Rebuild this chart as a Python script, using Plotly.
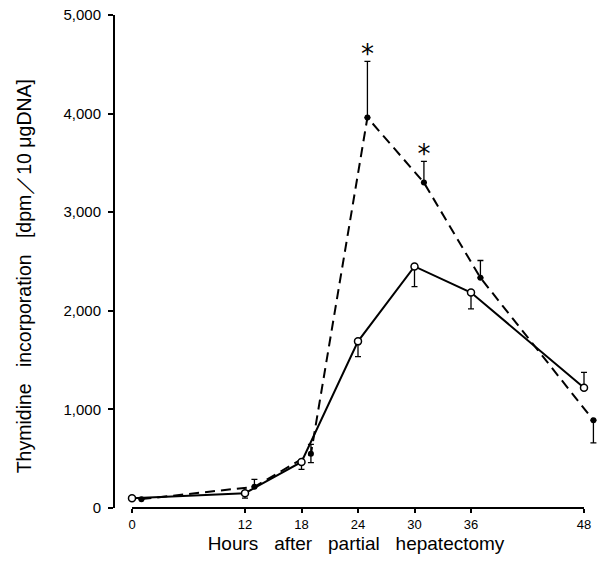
import plotly.graph_objects as go

# Control (open circles, solid line)
hours_ctrl = [0, 12, 18, 24, 30, 36, 48]
ctrl = [100, 150, 467, 1690, 2450, 2185, 1220]
ctrl_err_plus = [0, 0, 0, 0, 0, 0, 155]
ctrl_err_minus = [0, 50, 75, 155, 205, 165, 0]

# Treated (filled circles, dashed line)
hours_trt = [1, 13, 19, 25, 31, 37, 49]
trt = [90, 215, 550, 3960, 3300, 2335, 890]
trt_err_plus = [0, 75, 95, 570, 215, 175, 0]
trt_err_minus = [0, 0, 90, 0, 0, 0, 230]

# significance markers
star_x = [25, 31]
star_y = [4580, 3570]

x_ticks = [0, 12, 18, 24, 30, 36, 48]
y_ticks = [0, 1000, 2000, 3000, 4000, 5000]

FONT = "Liberation Sans, Arial, sans-serif"

fig = go.Figure()

fig.add_trace(go.Scatter(
    x=hours_trt, y=trt, mode="lines+markers",
    line=dict(color="black", width=2, dash="10px,6px"),
    marker=dict(symbol="circle", size=6, color="black"),
    error_y=dict(type="data", symmetric=False, array=trt_err_plus,
                 arrayminus=trt_err_minus, color="black", thickness=1.3, width=3),
    cliponaxis=False, showlegend=False,
))

fig.add_trace(go.Scatter(
    x=hours_ctrl, y=ctrl, mode="lines+markers",
    line=dict(color="black", width=2),
    marker=dict(symbol="circle", size=7, color="white",
                line=dict(color="black", width=1.5)),
    error_y=dict(type="data", symmetric=False, array=ctrl_err_plus,
                 arrayminus=ctrl_err_minus, color="black", thickness=1.3, width=3),
    cliponaxis=False, showlegend=False,
))

fig.add_trace(go.Scatter(
    x=star_x, y=star_y, mode="text", text=["*", "*"],
    textfont=dict(family="DejaVu Sans", size=26, color="#000000"),
    cliponaxis=False, showlegend=False, hoverinfo="skip",
))

# x axis line from 0 to 48 h
fig.add_shape(type="line", xref="x", yref="paper", x0=x_ticks[0], x1=x_ticks[-1],
              y0=0, y1=0, line=dict(color="black", width=2))

# y axis title placed as a rotated annotation
fig.add_annotation(
    text="Thymidine   incorporation   [dpm／10 μgDNA]",
    xref="paper", yref="paper", x=0, y=0.47, xshift=-91,
    xanchor="center", yanchor="middle", textangle=-90, showarrow=False,
    font=dict(size=19.5, family=FONT, color="black"),
)

fig.update_layout(
    width=597, height=573,
    margin=dict(l=115, r=0, t=15, b=65),
    paper_bgcolor="white", plot_bgcolor="white",
    font=dict(family=FONT, color="black", size=14),
    xaxis=dict(
        range=[-1.805, 49.38], showgrid=False, zeroline=False, showline=False,
        tickvals=x_ticks, ticktext=[str(v) for v in x_ticks],
        ticks="outside", ticklen=4, tickwidth=1.5, tickcolor="black",
        tickfont=dict(size=13),
        title=dict(text="Hours   after   partial   hepatectomy",
                   font=dict(size=19), standoff=6),
    ),
    yaxis=dict(
        range=[0, 5000], showgrid=False, zeroline=False,
        showline=True, linecolor="black", linewidth=2,
        tickvals=y_ticks, tickformat=",d",
        ticks="outside", ticklen=5, tickwidth=1.5, tickcolor="black",
        tickfont=dict(size=15), ticklabelstandoff=4,
    ),
)

fig.write_html("out.html", config={"displayModeBar": False},
               post_script="document.body.style.margin='0';")
